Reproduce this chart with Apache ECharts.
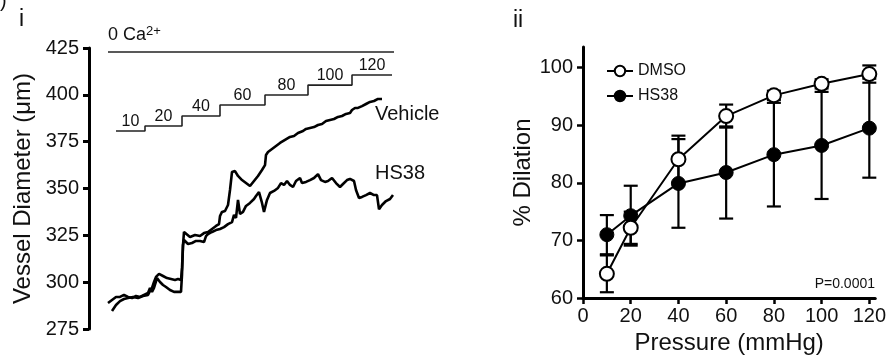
<!DOCTYPE html>
<html>
<head>
<meta charset="utf-8">
<script src="https://cdn.jsdelivr.net/npm/echarts@6/dist/echarts.min.js"></script>
<style>
html,body{margin:0;padding:0;background:#fff;}
#chart{width:889px;height:360px;}
</style>
</head>
<body>
<div id="chart"></div>
<script>
// panel i : diameter traces (time in arbitrary units, diameter in um)
let vehicleTrace = [[23,284.6],[27,287.8],[31,289.9],[35,291.0],[39,291.5],[44,292.1],[49,291.5],[54,292.6],[59,293.2],[61,295.3],[63,296.9],[65,300.1],[67,302.8],[70,304.4],[74,303.3],[78,302.2],[82,301.7],[86,301.2],[89,301.7],[92,301.2],[93,307.6],[94,319.8],[95,326.8],[97,326.2],[101,324.1],[106,325.2],[111,324.6],[115,326.2],[119,326.8],[123,328.4],[127,330.0],[130,331.0],[131,335.3],[133,337.5],[136,338.0],[139,341.2],[141,349.2],[143,358.8],[146,359.3],[149,356.7],[153,354.5],[157,352.9],[161,351.3],[165,354.0],[169,356.7],[173,359.9],[176,362.5],[177,367.9],[179,369.5],[183,371.1],[187,372.7],[191,374.3],[196,375.9],[201,377.5],[205,378.0],[209,379.6],[214,380.7],[217,381.8],[221,382.3],[225,382.8],[229,383.9],[233,384.4],[237,386.0],[241,386.6],[245,387.1],[249,388.2],[253,388.7],[257,389.8],[261,390.3],[263,391.9],[266,393.0],[269,393.0],[273,394.0],[277,395.1],[281,396.2],[285,396.7],[289,397.8],[293,397.8]];
let hs38Trace = [[19,288.9],[23,290.5],[27,292.1],[31,292.1],[35,293.2],[39,292.1],[43,291.5],[47,292.6],[51,292.1],[55,293.2],[59,294.2],[61,296.9],[63,294.8],[65,296.9],[68,302.2],[71,300.1],[74,298.5],[77,297.4],[81,295.8],[85,294.8],[89,294.8],[92,294.8],[93,303.8],[94,319.8],[95,322.5],[99,320.4],[103,320.9],[107,322.0],[111,322.0],[115,321.4],[117,324.6],[119,325.7],[123,326.8],[127,327.8],[131,328.4],[135,329.4],[139,331.0],[143,332.1],[145,335.9],[147,334.3],[149,343.9],[151,336.4],[154,337.5],[157,340.7],[161,342.3],[165,344.4],[167,346.0],[170,348.1],[173,342.3],[175,337.5],[178,343.9],[181,347.6],[185,348.7],[189,350.3],[192,352.9],[195,351.9],[198,354.0],[201,351.9],[204,350.8],[207,354.0],[211,355.6],[213,352.9],[217,353.5],[221,354.5],[225,355.6],[229,357.7],[232,354.5],[236,353.5],[239,354.0],[243,355.6],[247,352.9],[251,350.8],[254,352.4],[258,354.5],[261,355.1],[265,354.0],[267,349.2],[270,344.9],[273,345.5],[277,346.5],[281,347.6],[285,346.5],[288,346.5],[290,338.9],[293,341.2],[297,343.3],[301,344.4],[304,346.5]];

// pressure protocol drawn above the traces
let stepPressures = ["10","20","40","60","80","100","120"];
let stepTimes = [27,56,93,131,176,219,263,303];
let stepLevels = [380.7,383.4,388.7,394.6,399.9,405.2,410.6];
let caTimes = [19,305];
let caLevel = 422.9;

// panel ii : % dilation
let pressure = [10,20,40,60,80,100,120];
let dmsoMean = [64.2,72.2,84.1,91.6,95.2,97.2,98.9];
let dmsoErr = [3.2,2.8,4.1,2.0,0.8,0.8,1.5];
let hs38Mean = [71.0,74.3,79.9,81.8,84.9,86.5,89.5];
let hs38Err = [3.4,5.2,7.7,8.0,9.0,9.3,8.6];
let pressTicks = [0,20,40,60,80,100,120];
let dilTicks = [60,70,80,90,100];

let font = "'Liberation Sans', Arial, sans-serif";
let ink = "#111";

let stepData = [];
stepLevels.forEach((lv,i)=>{ stepData.push([stepTimes[i],lv]); });
stepData.push([stepTimes[stepTimes.length-1], stepLevels[stepLevels.length-1]]);
let stepLabelData = stepLevels.map((lv,i)=>({name:stepPressures[i], value:[(stepTimes[i]+stepTimes[i+1])/2, lv]}));

function errRender(params, api){
	let x = api.value(0);
	let p1 = api.coord([x, api.value(1)]);
	let p2 = api.coord([x, api.value(2)]);
	let w = 7;
	let st = {stroke:"#000", lineWidth:2.2};
	return {type:"group", children:[
		{type:"line", shape:{x1:p1[0],y1:p1[1],x2:p2[0],y2:p2[1]}, style:st},
		{type:"line", shape:{x1:p1[0]-w,y1:p1[1],x2:p1[0]+w,y2:p1[1]}, style:st},
		{type:"line", shape:{x1:p2[0]-w,y1:p2[1],x2:p2[0]+w,y2:p2[1]}, style:st}
	]};
}

let chart = echarts.init(document.getElementById("chart"));
let opt = {
	animation:false,
	textStyle:{fontFamily:font},
	grid:[
		{left:89, top:48, width:311, height:281},
		{left:583, top:47, width:295, height:251}
	],
	xAxis:[
		{gridIndex:0, type:"value", min:0, max:311, show:false},
		{gridIndex:1, type:"value", min:0, max:122.5, interval:20,
			name:"Pressure (mmHg)", nameLocation:"middle", nameGap:31,
			nameTextStyle:{fontSize:24, color:ink, fontFamily:font},
			axisLine:{lineStyle:{color:"#000", width:3}},
			axisTick:{length:6, lineStyle:{width:2.5, color:"#000"}, customValues:pressTicks},
			axisLabel:{fontSize:20, color:ink, margin:8, customValues:pressTicks},
			splitLine:{show:false}}
	],
	yAxis:[
		{gridIndex:0, type:"value", min:275, max:425, interval:25,
			name:"Vessel Diameter (μm)", nameLocation:"middle", nameGap:54,
			nameTextStyle:{fontSize:24, color:ink, fontFamily:font},
			axisLine:{show:true, lineStyle:{color:"#000", width:3}},
			axisTick:{show:true, length:6, lineStyle:{width:3, color:"#000"}},
			axisLabel:{fontSize:20, color:ink, margin:10},
			splitLine:{show:false}},
		{gridIndex:1, type:"value", min:60, max:103.6, interval:10,
			name:"% Dilation", nameLocation:"middle", nameGap:40,
			nameTextStyle:{fontSize:24, color:ink, fontFamily:font},
			axisLine:{show:true, lineStyle:{color:"#000", width:3}},
			axisTick:{show:true, length:6, lineStyle:{width:2.5, color:"#000"}, customValues:dilTicks},
			axisLabel:{fontSize:20, color:ink, margin:10, customValues:dilTicks},
			splitLine:{show:false}}
	],
	legend:{
		data:["DMSO","HS38"], orient:"vertical", left:601, top:58,
		itemWidth:26, itemHeight:13, itemGap:9,
		textStyle:{fontSize:16, color:ink, fontFamily:font}
	},
	graphic:[
		{type:"text", left:0, top:-9, style:{text:")", fontSize:20, fill:ink, fontFamily:font}},
		{type:"text", left:19, top:8, style:{text:"i", fontSize:23, fill:ink, fontFamily:font}},
		{type:"text", left:513, top:9, style:{text:"ii", fontSize:23, fill:ink, fontFamily:font}},
		{type:"text", left:375, top:104, style:{text:"Vehicle", fontSize:20, fill:ink, fontFamily:font}},
		{type:"text", left:375, top:163, style:{text:"HS38", fontSize:20, fill:ink, fontFamily:font}},
		{type:"text", left:108, top:25, style:{text:"0 Ca{s|2+}", fontSize:18, fill:ink, fontFamily:font,
			rich:{s:{fontSize:13, verticalAlign:"top", padding:[0,0,8,0], fill:ink}}}},
		{type:"text", right:14, top:277, style:{text:"P=0.0001", fontSize:14, fill:ink, fontFamily:font}}
	],
	series:[
		{name:"Vehicle trace", type:"line", xAxisIndex:0, yAxisIndex:0, data:vehicleTrace,
			showSymbol:false, lineStyle:{color:"#000", width:2.6}, silent:true},
		{name:"HS38 trace", type:"line", xAxisIndex:0, yAxisIndex:0, data:hs38Trace,
			showSymbol:false, lineStyle:{color:"#000", width:2.6}, silent:true},
		{name:"steps", type:"line", xAxisIndex:0, yAxisIndex:0, data:stepData, step:"end",
			showSymbol:false, lineStyle:{color:"#222", width:1.6}, silent:true},
		{name:"stepLabels", type:"scatter", xAxisIndex:0, yAxisIndex:0, data:stepLabelData,
			symbolSize:0, silent:true, itemStyle:{opacity:1},
			label:{show:true, position:"top", distance:1, formatter:"{b}", fontSize:16, color:ink, fontFamily:font}},
		{name:"ca", type:"line", xAxisIndex:0, yAxisIndex:0, data:caTimes.map(t=>[t,caLevel]),
			showSymbol:false, lineStyle:{color:"#222", width:1.6}, silent:true},
		{name:"hsErr", type:"custom", xAxisIndex:1, yAxisIndex:1, z:1, renderItem:errRender,
			data:pressure.map((p,i)=>[p, hs38Mean[i]-hs38Err[i], hs38Mean[i]+hs38Err[i]])},
		{name:"dmErr", type:"custom", xAxisIndex:1, yAxisIndex:1, z:1, renderItem:errRender,
			data:pressure.map((p,i)=>[p, dmsoMean[i]-dmsoErr[i], dmsoMean[i]+dmsoErr[i]])},
		{name:"HS38", type:"line", xAxisIndex:1, yAxisIndex:1, z:3,
			data:pressure.map((p,i)=>[p,hs38Mean[i]]),
			symbol:"circle", symbolSize:14,
			lineStyle:{color:"#000", width:2}, itemStyle:{color:"#000", borderColor:"#000", borderWidth:1}},
		{name:"DMSO", type:"line", xAxisIndex:1, yAxisIndex:1, z:4,
			data:pressure.map((p,i)=>[p,dmsoMean[i]]),
			symbol:"circle", symbolSize:14,
			lineStyle:{color:"#000", width:2}, itemStyle:{color:"#fff", borderColor:"#000", borderWidth:2}}
	]
};
chart.setOption(opt);
</script>
</body>
</html>
